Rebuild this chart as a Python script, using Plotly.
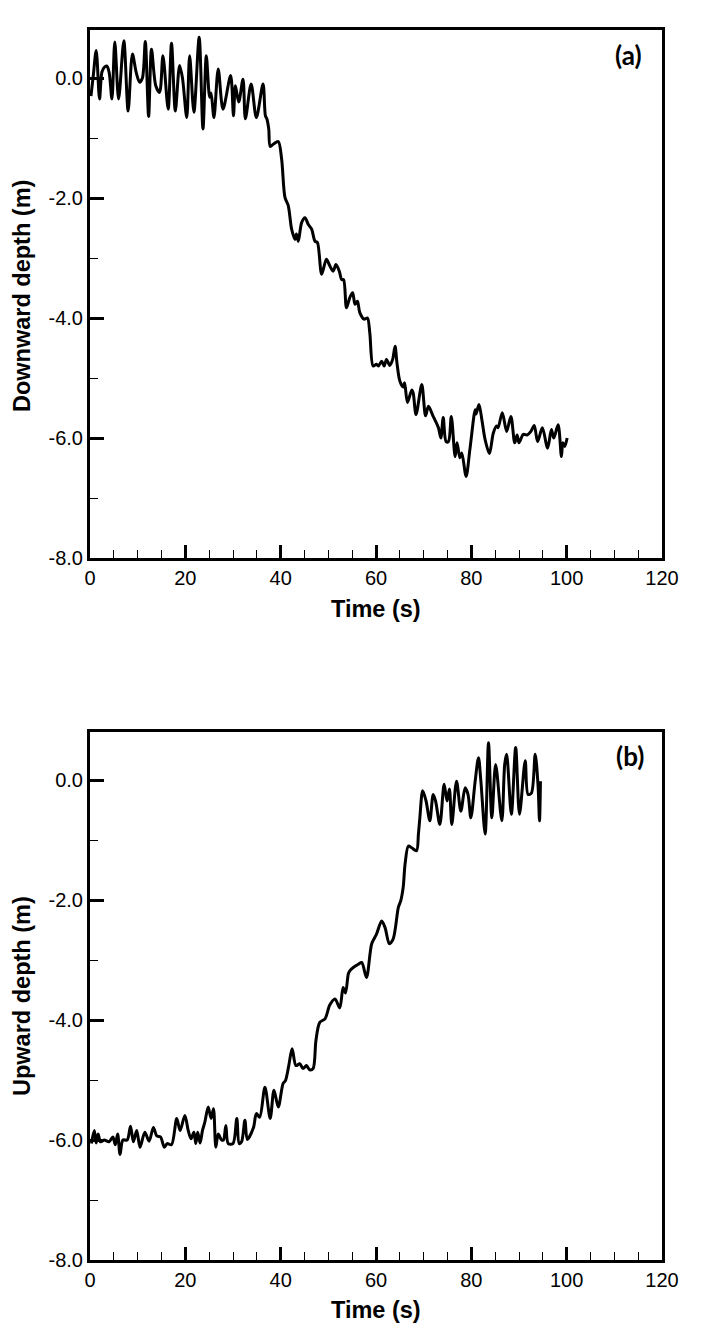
import plotly.graph_objects as go

# ---------------- data ----------------
time_a = [0.2, 0.7, 1.3, 2.0, 2.5, 3.0, 3.5, 4.0, 4.6, 5.2, 6.0, 7.1, 8.0, 8.9, 9.7,
          10.4, 11.0, 11.6, 12.3, 12.9, 13.8, 14.6, 15.3, 16.4, 17.1, 17.9, 18.8, 19.4,
          20.3, 20.9, 21.8, 22.9, 23.7, 24.4, 25.1, 25.4, 26.0, 26.9, 27.9, 29.5, 30.1,
          30.5, 31.2, 32.1, 32.6, 33.8, 34.9, 36.3, 36.8, 37.1, 37.5, 37.8, 38.5, 39.5,
          40.2, 40.9, 41.6, 42.3, 43.0, 43.3, 43.7, 44.4, 45.1, 45.8, 46.5, 47.2, 47.7,
          48.6, 49.6, 50.3, 51.0, 51.6, 52.3, 52.8, 53.2, 53.8, 54.5, 55.1, 55.6, 56.1,
          56.6, 57.5, 58.2, 58.7, 59.4, 60.1, 60.5, 61.2, 61.7, 62.2, 62.9, 63.5, 64.0,
          64.4, 65.0, 65.7, 66.0, 66.6, 67.5, 67.8, 68.4, 69.6, 70.4, 71.0, 72.0, 73.1,
          73.6, 74.1, 74.7, 75.2, 75.8, 76.6, 77.0, 77.6, 78.0, 78.9, 79.7, 80.8, 81.0,
          81.6, 82.2, 82.9, 83.8, 84.6, 85.3, 85.6, 86.5, 87.4, 88.3, 89.1, 89.6, 90.0,
          90.9, 91.7, 92.5, 93.2, 93.9, 94.9, 96.0, 96.8, 97.3, 98.2, 98.9, 99.2, 99.6,
          100.1]
depth_down = [-0.30, 0.05, 0.46, -0.35, 0.10, 0.18, 0.20, 0.10, -0.35, 0.60, -0.35, 0.62,
              -0.55, 0.40, 0.09, -0.07, 0.00, 0.61, -0.64, 0.48, -0.13, -0.24, 0.37, -0.52,
              0.58, -0.55, 0.21, 0.00, -0.66, 0.37, -0.57, 0.68, -0.85, 0.37, -0.32, -0.25,
              -0.66, 0.15, -0.52, 0.04, -0.63, -0.13, -0.40, -0.02, -0.68, -0.10, -0.66,
              -0.10, -0.63, -0.68, -0.85, -1.14, -1.10, -1.06, -1.35, -1.99, -2.13, -2.52,
              -2.69, -2.60, -2.72, -2.41, -2.33, -2.44, -2.52, -2.72, -2.74, -3.27, -3.02,
              -3.13, -3.22, -3.11, -3.22, -3.36, -3.36, -3.83, -3.66, -3.58, -3.77, -3.72,
              -3.91, -4.02, -4.00, -4.25, -4.80, -4.77, -4.80, -4.72, -4.80, -4.69, -4.79,
              -4.69, -4.47, -4.75, -5.05, -5.15, -5.08, -5.41, -5.20, -5.25, -5.61, -5.11,
              -5.63, -5.47, -5.64, -5.83, -6.00, -5.66, -6.06, -6.06, -5.64, -6.31, -6.08,
              -6.33, -6.25, -6.64, -6.19, -5.53, -5.60, -5.44, -5.69, -6.03, -6.26, -5.92,
              -5.80, -5.83, -5.58, -5.89, -5.64, -6.08, -5.95, -6.08, -5.94, -5.95, -5.89,
              -5.79, -6.06, -5.83, -6.17, -5.86, -6.00, -5.78, -6.31, -6.08, -6.14, -6.00]

time_b = [0.3, 0.9, 1.3, 1.7, 2.2, 3.0, 4.0, 4.8, 5.3, 5.8, 6.3, 6.9, 7.8, 8.5, 9.1, 9.8,
          10.5, 11.5, 12.4, 13.3, 14.0, 14.8, 15.6, 16.2, 17.1, 18.2, 18.9, 19.9, 20.6,
          21.2, 21.8, 22.2, 22.6, 23.1, 23.6, 24.1, 24.8, 25.4, 25.9, 26.4, 26.9, 27.6,
          28.0, 28.5, 29.0, 30.0, 30.8, 31.3, 31.8, 32.5, 33.0, 34.3, 34.9, 35.6, 36.7,
          37.8, 38.6, 39.5, 40.5, 41.0, 41.7, 42.4, 43.2, 44.0, 44.7, 45.4, 46.1, 46.8,
          47.4, 48.2, 49.3, 50.3, 51.4, 52.4, 53.1, 53.6, 54.2, 54.5, 55.3, 56.3, 57.0,
          58.0, 59.1, 60.1, 61.2, 61.9, 62.8, 63.6, 64.7, 65.2, 65.7, 66.1, 66.8, 67.5,
          68.5, 68.9, 69.2, 69.8, 70.5, 71.3, 72.0, 72.5, 73.4, 74.3, 74.9, 75.4, 75.9,
          76.9, 77.8, 78.7, 79.3, 79.9, 80.8, 81.5, 82.0, 82.9, 83.6, 84.3, 85.1, 86.4,
          87.0, 87.4, 88.4, 89.3, 90.1, 91.3, 91.9, 92.6, 93.4, 94.0, 94.3, 94.5]
depth_up = [-6.06, -5.84, -6.05, -5.90, -6.03, -6.00, -6.03, -5.95, -6.08, -5.90, -6.24,
            -6.00, -6.00, -5.77, -6.03, -5.84, -6.12, -5.87, -6.02, -5.79, -5.93, -5.95,
            -6.12, -6.06, -6.08, -5.64, -5.84, -5.59, -5.84, -5.98, -5.87, -6.06, -5.87,
            -6.05, -5.84, -5.70, -5.45, -5.64, -5.48, -6.12, -5.90, -6.00, -6.00, -5.76,
            -6.06, -6.06, -5.64, -6.06, -6.03, -5.67, -5.99, -5.79, -5.56, -5.62, -5.12,
            -5.64, -5.17, -5.45, -5.06, -5.01, -4.76, -4.48, -4.76, -4.73, -4.81, -4.76,
            -4.83, -4.81, -4.34, -4.04, -3.98, -3.75, -3.65, -3.80, -3.46, -3.55, -3.23,
            -3.18, -3.12, -3.07, -3.04, -3.29, -2.73, -2.57, -2.35, -2.46, -2.73, -2.65,
            -2.12, -2.01, -1.79, -1.40, -1.10, -1.13, -1.18, -0.90, -0.63, -0.18, -0.35,
            -0.68, -0.24, -0.35, -0.74, -0.07, -0.35, -0.15, -0.74, -0.02, -0.52, -0.13,
            -0.24, -0.63, -0.02, 0.37, -0.02, -0.90, 0.62, -0.63, 0.26, -0.68, 0.26, 0.43,
            -0.57, 0.54, -0.57, 0.32, -0.24, -0.22, 0.43, -0.10, -0.68, -0.02]

x_tick_vals = [0, 20, 40, 60, 80, 100, 120]
x_tick_labels = ["0", "20", "40", "60", "80", "100", "120"]
y_tick_vals = [0, -2, -4, -6, -8]
y_tick_labels = ["0.0", "-2.0", "-4.0", "-6.0", "-8.0"]
panel_labels = ["(a)", "(b)"]
y_titles = ["Downward depth (m)", "Upward depth (m)"]
x_title = "Time (s)"

assert len(time_a) == len(depth_down)
assert len(time_b) == len(depth_up)

# ---------------- figure ----------------
W, H = 704, 1341
OFF = 8  # default page body margin of the html page
fig = go.Figure()

line_style = dict(color="black", width=3, shape="spline", smoothing=0.85)
fig.add_trace(go.Scatter(x=time_a, y=depth_down, mode="lines", line=line_style,
                         xaxis="x", yaxis="y", showlegend=False))
fig.add_trace(go.Scatter(x=time_b, y=depth_up, mode="lines", line=line_style,
                         xaxis="x2", yaxis="y2", showlegend=False))

tick_font = dict(family="Liberation Sans, Arial, sans-serif", size=20, color="black")


def px_x(p):
    return (p - OFF) / W


def px_y(p):
    return (H - (p - OFF)) / H


x_dom = [px_x(90), px_x(662)]
top_dom = [px_y(558), px_y(30)]
bot_dom = [px_y(1260), px_y(732)]

xaxis_common = dict(
    range=[0, 120], tickmode="array", tickvals=x_tick_vals, ticktext=x_tick_labels,
    ticks="inside", ticklen=13, tickwidth=3, tickcolor="black",
    minor=dict(dtick=5, tick0=0, ticks="inside", ticklen=8, tickwidth=1, tickcolor="black",
               showgrid=False),
    showline=True, linewidth=3, linecolor="black", mirror=True,
    showgrid=False, zeroline=False, tickfont=tick_font, domain=x_dom, fixedrange=True,
)
yaxis_common = dict(
    range=[-8, 0.8], tickmode="array", tickvals=y_tick_vals, ticktext=y_tick_labels,
    ticks="inside", ticklen=14, tickwidth=3, tickcolor="black",
    minor=dict(dtick=1, tick0=0, ticks="inside", ticklen=8, tickwidth=1, tickcolor="black",
               showgrid=False),
    showline=True, linewidth=3, linecolor="black", mirror=True,
    showgrid=False, zeroline=False, tickfont=tick_font, fixedrange=True,
)

fig.update_layout(
    width=W, height=H,
    margin=dict(l=0, r=0, t=0, b=0, autoexpand=False),
    paper_bgcolor="white", plot_bgcolor="white",
    xaxis=dict(**xaxis_common, anchor="y"),
    yaxis=dict(**yaxis_common, domain=top_dom, anchor="x"),
    xaxis2=dict(**xaxis_common, anchor="y2"),
    yaxis2=dict(**yaxis_common, domain=bot_dom, anchor="x2"),
)

title_font = dict(family="Liberation Sans, Arial, sans-serif", size=23.5, color="black")
label_font = dict(family="Lato, Open Sans, sans-serif", size=26, color="black")

ann = []
for xt_y, yt_y, ytxt in [(609, 296, y_titles[0]), (1310, 996, y_titles[1])]:
    ann.append(dict(text="<b>%s</b>" % x_title, x=px_x(376), y=px_y(xt_y), xref="paper",
                    yref="paper", showarrow=False, xanchor="center", yanchor="middle",
                    font=title_font))
    ann.append(dict(text="<b>%s</b>" % ytxt, x=px_x(22), y=px_y(yt_y), xref="paper",
                    yref="paper", showarrow=False, xanchor="center", yanchor="middle",
                    textangle=-90, font=title_font))
for lbl, lx, ly in [(panel_labels[0], 628, 55), (panel_labels[1], 630, 756)]:
    ann.append(dict(text="<b>%s</b>" % lbl, x=px_x(lx), y=px_y(ly), xref="paper",
                    yref="paper", showarrow=False, xanchor="center", yanchor="middle",
                    font=label_font))
fig.update_layout(annotations=ann)

fig.write_html("out.html")
